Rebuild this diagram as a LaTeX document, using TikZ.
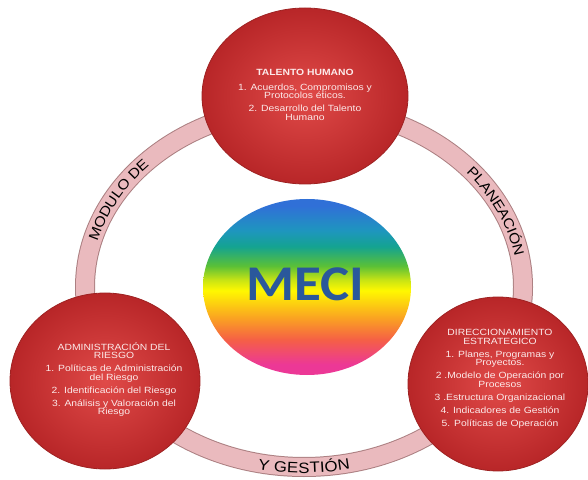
\documentclass[tikz,border=0pt]{standalone}
\usepackage{fontspec}
\setmainfont{Liberation Sans}
\newfontfamily\circfont[FakeStretch=1.15]{Liberation Sans}
\newfontfamily\ringfont[FakeStretch=1.12]{Liberation Sans}
\newfontfamily\mecifont[FakeStretch=1.1]{Carlito}
\usetikzlibrary{shapes.geometric,decorations.text}

\definecolor{ringPink}{RGB}{234,186,190}
\definecolor{ringEdge}{RGB}{172,128,130}
\definecolor{redIn}{RGB}{224,74,72}
\definecolor{redOut}{RGB}{184,38,40}
\definecolor{redRim}{RGB}{158,34,34}
\definecolor{circText}{RGB}{252,234,234}
\definecolor{meciBlue}{RGB}{42,88,155}
\definecolor{mPink}{RGB}{236,56,150}
\definecolor{mRedOr}{RGB}{245,95,70}
\definecolor{mOrange}{RGB}{250,160,35}
\definecolor{mYellow}{RGB}{255,248,0}
\definecolor{mYelGreen}{RGB}{200,228,20}
\definecolor{mGreen}{RGB}{90,192,55}
\definecolor{mTeal}{RGB}{20,163,145}
\definecolor{mCyan}{RGB}{30,150,190}
\definecolor{mBlue}{RGB}{48,112,215}

\pgfdeclareverticalshading{mecishade}{100bp}{color(0bp)=(mPink); color(28bp)=(mPink); color(35bp)=(mRedOr); color(41bp)=(mOrange); color(49bp)=(mYellow); color(52bp)=(mYelGreen); color(56bp)=(mGreen); color(61.5bp)=(mTeal); color(66bp)=(mCyan); color(73bp)=(mBlue); color(100bp)=(mBlue)}

\tikzset{
  redcirc/.style={ellipse, draw=redRim, line width=0.8pt, inner color=redIn, outer color=redOut, inner sep=0pt},
  circtext/.style={align=center, text=circText, font=\circfont\fontsize{9}{8.5}\selectfont, inner sep=0pt},
  ringtext/.style={decorate, decoration={text along path, text align=center, raise=-5pt}},
}

\begin{document}
\begin{tikzpicture}[x=1pt,y=1pt]
\useasboundingbox (0,0) rectangle (588,479);

% ring
\node[ellipse, minimum width=438pt, minimum height=360pt, inner sep=0pt,
      draw=ringEdge, line width=1pt, double=ringPink, double distance=18pt] (ring) at (304,192) {};

\path[ringtext, decoration={text={|\ringfont\fontsize{14}{14}\selectfont|MODULO DE}}]
  (ring.center) ++(176:219pt and 180pt) arc[start angle=176, end angle=126, x radius=219pt, y radius=180pt];
\path[ringtext, decoration={text={|\ringfont\fontsize{14}{14}\selectfont|PLANEACIÓN}}]
  (ring.center) ++(50:219pt and 180pt) arc[start angle=50, end angle=0, x radius=219pt, y radius=180pt];
\path[ringtext, decoration={text={|\ringfont\fontsize{15}{15}\selectfont|Y GESTIÓN}, raise=-6pt}]
  (ring.center) ++(245:219pt and 180pt) arc[start angle=245, end angle=295, x radius=219pt, y radius=180pt];

% centre
\node[ellipse, minimum width=208pt, minimum height=176pt, inner sep=0pt, shade, shading=mecishade] (meci) at (307,192) {};
\node[text=meciBlue, font=\mecifont\bfseries\fontsize{50}{50}\selectfont, inner sep=0pt] (mecitext) at (305,195) {MECI};

% red circles
\node[redcirc, minimum width=206pt, minimum height=176pt] (talento) at (305,383) {};
\node[redcirc, minimum width=190pt, minimum height=176pt] (riesgo) at (105,98) {};
\node[redcirc, minimum width=180pt, minimum height=174pt] (direcc) at (498,95) {};

\node[circtext] (talentotxt) at (305,384) {\textbf{TALENTO HUMANO}\\[6pt]
  1. Acuerdos, Compromisos y\\ Protocolos éticos.\\[4.5pt]
  2. Desarrollo del Talento\\ Humano};

\node[circtext] (riesgotxt) at (114,99.5) {ADMINISTRACIÓN DEL\\ RIESGO\\[4.5pt]
  1. Políticas de Administración\\ del Riesgo\\[4.5pt]
  2. Identificación del Riesgo\\[4.5pt]
  3. Análisis y Valoración del\\ Riesgo};

\node[circtext] (direcctxt) at (500,100) {DIRECCIONAMIENTO\\ ESTRATEGICO\\[4.5pt]
  1. Planes, Programas y\\ Proyectos.\\[4.5pt]
  2 .Modelo de Operación por\\ Procesos\\[4.5pt]
  3 .Estructura Organizacional\\[4.5pt]
  4. Indicadores de Gestión\\[4.5pt]
  5. Políticas de Operación};
\end{tikzpicture}
\end{document}
